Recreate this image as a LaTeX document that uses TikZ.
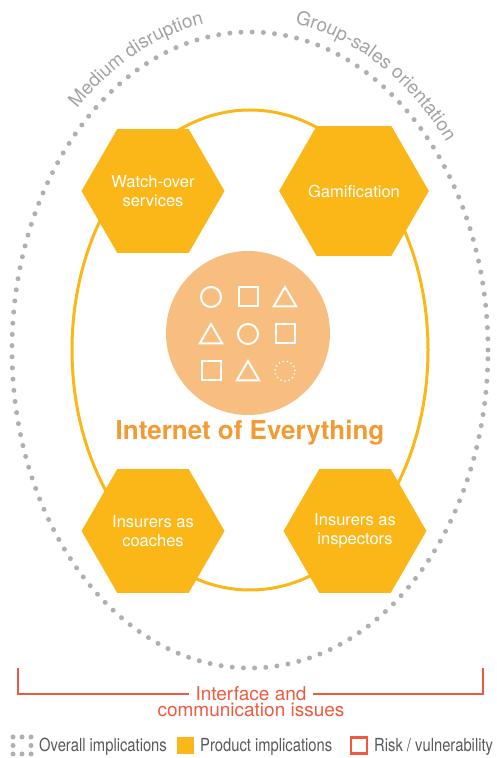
\documentclass[tikz,border=0pt]{standalone}
\usepackage{fontspec}
\setmainfont{TeX Gyre Heros}
\newfontfamily\legendfont[FakeStretch=0.82]{TeX Gyre Heros}
\usetikzlibrary{shapes.geometric}
\usetikzlibrary{decorations.text}
\usepackage{xcolor}

\definecolor{hexyellow}{HTML}{FBB718}
\definecolor{blobfill}{HTML}{F7BE80}
\definecolor{ioeorange}{HTML}{F39A33}
\definecolor{dotgray}{HTML}{B0B0B0}
\definecolor{labelgray}{HTML}{A3A3A3}
\definecolor{riskred}{HTML}{EE5A3F}
\definecolor{legendgray}{HTML}{595959}

\newcommand{\curvefont}{\fontsize{19}{19}\selectfont\color{labelgray}}

\begin{document}
\begin{tikzpicture}[x=1pt, y=1pt,
    hexa/.style={regular polygon, regular polygon sides=6, minimum size=143pt, inner sep=0pt,
      fill=hexyellow, text=white, align=center, font=\fontsize{16.5}{19.5}\selectfont},
    sym/.style={draw=white, line width=2pt, inner sep=0pt},
    tri/.style={sym, regular polygon, regular polygon sides=3, minimum size=26pt, yshift=-3pt},
    dotring/.style={draw=dotgray, line width=5pt, line cap=round, dash pattern=on 0pt off 11.2pt},
    riskline/.style={draw=riskred, line width=2.4pt},
    risklabel/.style={anchor=base, text=riskred, inner sep=0pt, font=\fontsize{19}{19}\selectfont},
    legendtext/.style={anchor=base west, text=legendgray, inner sep=0pt, font=\legendfont\fontsize{18}{18}\selectfont}]

      % fixed frame
      \useasboundingbox (0,0) rectangle (496,758);

      % rings
      \node [ellipse, dotring, minimum width=476pt, minimum height=636pt, inner sep=0pt, name=outerring] at (250,408) {};
      \node [ellipse, draw=hexyellow, line width=3pt, minimum width=356pt, minimum height=480pt, inner sep=0pt, name=innerring] at (250,408) {};

      % curved labels
      \path [decorate, decoration={text along path, text align=center, text={|\curvefont|Medium disruption}}]
        (250,408) ++(143:252pt and 332pt) arc [start angle=143, end angle=89, x radius=252pt, y radius=332pt];
      \path [decorate, decoration={text along path, text align=center, text={|\curvefont|Group-sales orientation}}]
        (250,408) ++(88:252pt and 332pt) arc [start angle=88, end angle=32, x radius=252pt, y radius=332pt];

      % hexagons
      \node [hexa, name=watch] at (153,567) {Watch-over\\services};
      \node [hexa, name=gamif] at (354,567) {Gamification};
      \node [hexa, name=coach] at (153,227) {Insurers as\\coaches};
      \node [hexa, name=inspect] at (355,227) {Insurers as\\inspectors};

      % centre
      \node [circle, fill=blobfill, minimum size=164pt, inner sep=0pt, name=ioe] at (248,425) {};
      \node [sym, circle, minimum size=20pt, name=s11] at (211,461) {};
      \node [sym, minimum size=19pt, name=s12] at (248,461) {};
      \node [tri, name=s13] at (285,461) {};
      \node [tri, name=s21] at (211,424) {};
      \node [sym, circle, minimum size=20pt, name=s22] at (248,424) {};
      \node [sym, minimum size=19pt, name=s23] at (285,424) {};
      \node [sym, minimum size=19pt, name=s31] at (211,387) {};
      \node [tri, name=s32] at (248,387) {};
      \node [sym, circle, minimum size=20pt, line width=1.5pt, dash pattern=on 1.2pt off 3pt, name=s33] at (285,387) {};

      \node [anchor=base, inner sep=0pt, text=ioeorange, font=\bfseries\fontsize{26}{26}\selectfont, name=ioetext] at (250,318) {Internet of Everything};

      % risk bracket
      \node [risklabel, name=iface] at (251,57) {Interface and};
      \node [risklabel, name=commiss] at (251,41) {communication issues};
      \coordinate (bl) at (18,90);
      \coordinate (br) at (483,90);
      \draw [riskline] (bl) |- ([xshift=-6pt]iface.west);
      \draw [riskline] (br) |- ([xshift=6pt]iface.east);

      % legend
      \foreach \dx/\dy in {0/0,9/0,18/0,0/8.5,18/8.5,0/17,9/17,18/17}
        \fill [dotgray] (13+\dx,4+\dy) circle [radius=2.5pt];
      \node [legendtext, name=overall] at (39,6) {Overall implications};
      \node [fill=hexyellow, minimum size=17pt, inner sep=0pt, name=prodkey] at (185.5,12.5) {};
      \node [legendtext, name=product] at (200,6) {Product implications};
      \node [draw=riskred, line width=2.2pt, minimum size=16pt, inner sep=0pt, name=riskkey] at (359,12.5) {};
      \node [legendtext, name=risk] at (374,6) {Risk / vulnerability};

\end{tikzpicture}
\end{document}
